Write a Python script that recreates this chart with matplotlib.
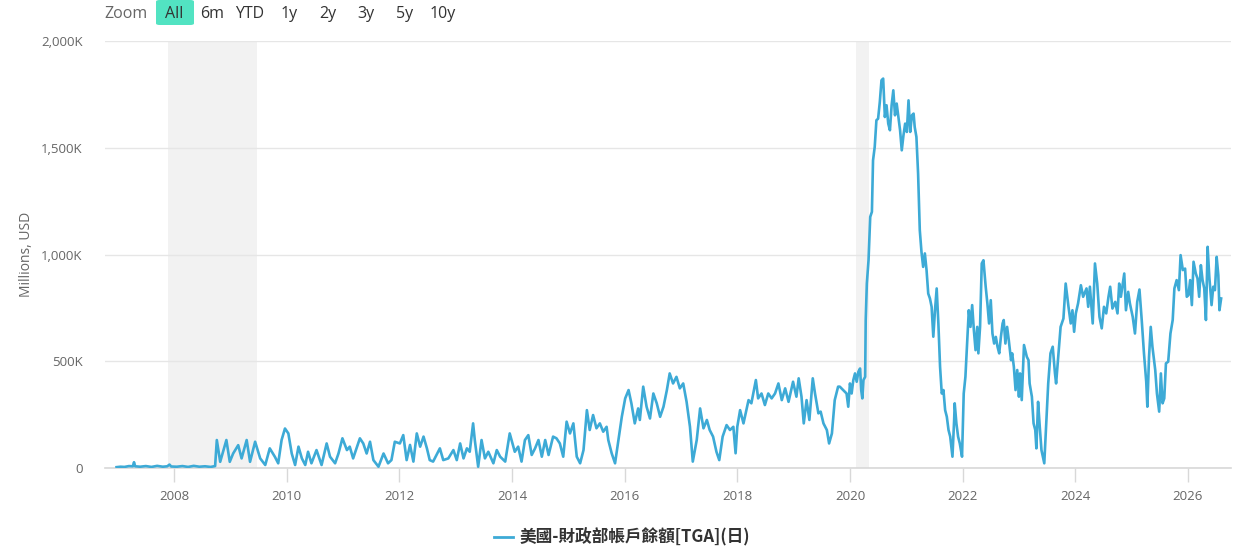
import matplotlib
matplotlib.use("Agg")
import matplotlib.pyplot as plt
from matplotlib.patches import FancyBboxPatch
from matplotlib.ticker import FuncFormatter, MultipleLocator

# TGA balance (decimal year, millions USD in thousands -> "K")
years = [
    2006.98, 2007.05, 2007.12, 2007.20, 2007.27, 2007.29, 2007.31, 2007.40, 2007.50, 2007.60,
    2007.70, 2007.80, 2007.88, 2007.92, 2007.95, 2008.05, 2008.15, 2008.25, 2008.35, 2008.45,
    2008.55, 2008.65, 2008.73,
    2008.76, 2008.82, 2008.88, 2008.93, 2008.99, 2009.05, 2009.14, 2009.20, 2009.29, 2009.35,
    2009.44, 2009.53, 2009.62, 2009.70, 2009.79, 2009.85, 2009.91, 2009.97, 2010.03, 2010.09,
    2010.15, 2010.21, 2010.27, 2010.33, 2010.38, 2010.44, 2010.53, 2010.62, 2010.71, 2010.77,
    2010.86, 2010.92, 2010.99, 2011.07, 2011.12, 2011.18, 2011.30, 2011.36, 2011.42, 2011.48,
    2011.54, 2011.63, 2011.72, 2011.80, 2011.86, 2011.92,
    2012.01, 2012.07, 2012.13, 2012.19, 2012.25, 2012.31, 2012.37, 2012.43, 2012.49, 2012.54,
    2012.60, 2012.72, 2012.78, 2012.87, 2012.96, 2013.02, 2013.08, 2013.14, 2013.20, 2013.25,
    2013.31, 2013.34, 2013.40, 2013.46, 2013.52, 2013.58, 2013.67, 2013.73, 2013.79, 2013.88,
    2013.96, 2014.05, 2014.11, 2014.17, 2014.23, 2014.29, 2014.35, 2014.41, 2014.47, 2014.53,
    2014.59, 2014.65, 2014.73, 2014.79, 2014.85, 2014.91, 2014.97, 2015.03, 2015.09, 2015.15,
    2015.21, 2015.27,
    2015.33, 2015.38, 2015.44, 2015.50, 2015.56, 2015.62, 2015.68, 2015.71, 2015.77, 2015.83,
    2015.89, 2015.95, 2016.01, 2016.07, 2016.12, 2016.18, 2016.24, 2016.27, 2016.33, 2016.39,
    2016.45, 2016.51, 2016.57, 2016.63, 2016.69, 2016.75, 2016.80, 2016.86, 2016.92, 2016.98,
    2017.04, 2017.10, 2017.16, 2017.21, 2017.28, 2017.34, 2017.40, 2017.46, 2017.51, 2017.57,
    2017.63, 2017.68, 2017.74, 2017.81, 2017.87, 2017.93, 2017.97, 2018.00, 2018.05, 2018.11,
    2018.20, 2018.25, 2018.33, 2018.37, 2018.43, 2018.49, 2018.55, 2018.61, 2018.67, 2018.73,
    2018.79, 2018.85, 2018.91, 2018.99, 2019.05, 2019.09, 2019.14, 2019.18, 2019.23, 2019.28,
    2019.34, 2019.38, 2019.44, 2019.48, 2019.53, 2019.59, 2019.63, 2019.68, 2019.73, 2019.79,
    2019.82, 2019.88, 2019.94, 2019.97, 2020.00, 2020.03, 2020.06, 2020.09, 2020.12, 2020.15,
    2020.18, 2020.20, 2020.22, 2020.24, 2020.27, 2020.28, 2020.30, 2020.33, 2020.36, 2020.39,
    2020.41, 2020.44, 2020.47, 2020.50, 2020.53, 2020.56, 2020.59, 2020.62, 2020.65, 2020.68,
    2020.71, 2020.74, 2020.77, 2020.80, 2020.83, 2020.86, 2020.89, 2020.92, 2020.95, 2020.98,
    2021.01, 2021.04, 2021.07, 2021.10, 2021.13, 2021.15, 2021.18, 2021.21, 2021.24, 2021.27,
    2021.30, 2021.33, 2021.36, 2021.39, 2021.42, 2021.45, 2021.48, 2021.51, 2021.54, 2021.57,
    2021.60, 2021.63, 2021.66, 2021.69, 2021.72, 2021.75, 2021.78, 2021.82, 2021.85, 2021.86,
    2021.89, 2021.92, 2021.95, 2021.99, 2022.02, 2022.05, 2022.08, 2022.11, 2022.14, 2022.17,
    2022.20, 2022.23, 2022.26, 2022.28, 2022.31, 2022.34, 2022.37, 2022.41, 2022.44, 2022.47,
    2022.50, 2022.53, 2022.56, 2022.59, 2022.62, 2022.65, 2022.68, 2022.71, 2022.73, 2022.76,
    2022.79, 2022.82, 2022.86, 2022.88, 2022.91, 2022.94, 2022.97, 2023.00,
    2023.02, 2023.05, 2023.09, 2023.14, 2023.17, 2023.19, 2023.23, 2023.26, 2023.29, 2023.31,
    2023.34, 2023.37, 2023.40, 2023.45, 2023.48, 2023.52, 2023.56, 2023.60, 2023.64, 2023.66,
    2023.70, 2023.74, 2023.79, 2023.83, 2023.88, 2023.92, 2023.95, 2023.98, 2024.01, 2024.05,
    2024.10, 2024.14, 2024.20, 2024.23, 2024.26, 2024.31, 2024.35, 2024.39, 2024.43, 2024.47,
    2024.51, 2024.55, 2024.59, 2024.62, 2024.66, 2024.71, 2024.75, 2024.78, 2024.81, 2024.87,
    2024.90, 2024.94, 2024.97, 2025.02, 2025.06, 2025.10, 2025.14, 2025.18, 2025.22, 2025.26,
    2025.28, 2025.31, 2025.34, 2025.37, 2025.42, 2025.45, 2025.49, 2025.52, 2025.55, 2025.58,
    2025.61, 2025.65, 2025.69, 2025.73, 2025.76, 2025.80, 2025.84, 2025.87, 2025.91, 2025.95,
    2025.98, 2026.01, 2026.04, 2026.07, 2026.10, 2026.14, 2026.17, 2026.20, 2026.23, 2026.26,
    2026.29, 2026.32, 2026.35, 2026.38, 2026.42, 2026.45, 2026.48, 2026.51, 2026.54, 2026.56,
    2026.59,
]
balance_k = [
    4, 6, 5, 9, 8, 27, 8, 6, 9, 5,
    10, 6, 8, 16, 7, 6, 9, 5, 10, 6,
    8, 5, 9,
    131, 29, 84, 131, 29, 68, 107, 45, 131, 29,
    123, 45, 14, 92, 53, 22, 131, 185, 162, 68,
    14, 100, 45, 14, 76, 22, 84, 14, 115, 53,
    22, 68, 139, 84, 100, 45, 139, 115, 68, 123,
    37, 6, 68, 22, 37, 123,
    115, 154, 37, 108, 30, 162, 100, 147, 92, 37,
    30, 92, 37, 45, 84, 37, 115, 45, 92, 76,
    209, 131, 6, 131, 45, 76, 22, 84, 53, 30,
    162, 76, 100, 30, 131, 154, 61, 92, 131, 53,
    131, 61, 147, 139, 115, 53, 217, 162, 209, 53,
    22, 84,
    271, 178, 248, 186, 209, 170, 193, 131, 69, 22,
    131, 240, 326, 365, 303, 209, 279, 225, 381, 287,
    232, 349, 303, 240, 287, 365, 443, 396, 427, 373,
    396, 310, 193, 30, 131, 279, 186, 225, 178, 147,
    76, 37, 147, 201, 178, 193, 69, 193, 271, 209,
    318, 303, 412, 326, 349, 295, 349, 326, 349, 396,
    318, 373, 310, 404, 334, 420, 334, 209, 318, 225,
    420, 349, 256, 264, 209, 178, 115, 162, 318, 381,
    381, 365, 349, 287, 396, 349, 412, 443, 404, 451,
    466, 365, 326, 412, 427, 693, 864, 973, 1176, 1200,
    1441, 1504, 1629, 1636, 1714, 1816, 1824, 1644, 1699, 1613,
    1582, 1699, 1769, 1652, 1707, 1644, 1582, 1488, 1558, 1613,
    1574, 1722, 1574, 1652, 1660, 1597, 1551, 1379, 1114, 1012,
    942, 1005, 927, 817, 794, 755, 615, 739, 841, 677,
    474, 349, 365, 271, 240, 178, 147, 53, 225, 303,
    209, 147, 115, 53, 349, 427, 583, 739, 661, 763,
    646, 552, 661, 537, 661, 958, 973, 849, 771, 677,
    786, 630, 583, 614, 568, 537, 614, 677, 693, 583,
    661, 599, 505, 537, 474, 365, 459, 334,
    443, 318, 576, 521, 505, 396, 334, 209, 178, 92,
    310, 193, 84, 22, 178, 396, 537, 568, 443, 396,
    529, 661, 700, 864, 755, 677, 739, 638, 724, 771,
    856, 802, 841, 755, 849, 677, 958, 864, 708, 654,
    755, 724, 802, 849, 747, 778, 724, 864, 802, 911,
    739, 825, 771, 708, 630, 778, 836, 693, 537, 404,
    287, 521, 661, 568, 459, 349, 264, 443, 303, 326,
    490, 498, 630, 693, 841, 880, 833, 997, 927, 934,
    802, 810, 880, 763, 966, 911, 888, 802, 950, 880,
    841, 693, 1036, 895, 763, 849, 833, 989, 903, 739,
    794,
]

# recession bands (start, end)
recessions = [(2007.89, 2009.47), (2020.11, 2020.34)]
zoom_buttons = ["All", "6m", "YTD", "1y", "2y", "3y", "5y", "10y"]
series_name = "美國-財政部帳戶餘額[TGA](日)"

W, H = 1252, 555
fig = plt.figure(figsize=(W / 100, H / 100), dpi=100)
plt.rcParams['font.family'] = ['Open Sans', 'DejaVu Sans']
ax = fig.add_axes([105 / W, 1 - 468 / H, (1231 - 105) / W, (468 - 41) / H])

line_color = "#3daad6"
for start, end in recessions:
    ax.axvspan(start, end, color="#f2f2f2", lw=0, zorder=0)
ax.plot(years, balance_k, color=line_color, lw=1.9, zorder=3)

ax.set_xlim(2006.775, 2026.765)
ax.set_ylim(0, 2000)
ax.yaxis.set_major_locator(MultipleLocator(500))
ax.xaxis.set_major_locator(MultipleLocator(2))
ax.yaxis.set_major_formatter(FuncFormatter(lambda v, p: "0" if v == 0 else f"{int(v):,}K"))
ax.xaxis.set_major_formatter(FuncFormatter(lambda v, p: f"{int(round(v))}"))

ax.grid(axis="y", color="#e6e6e6", lw=1)
ax.set_axisbelow(True)
for s in ["top", "right", "left"]:
    ax.spines[s].set_visible(False)
ax.spines["bottom"].set_color("#d8d8d8")
ax.spines["bottom"].set_linewidth(1.2)
ax.tick_params(axis="y", length=0, pad=16, labelsize=9.5, labelcolor="#666666")
ax.tick_params(axis="x", length=10, width=1, color="#d8d8d8", pad=6, labelsize=9.5, labelcolor="#666666")
ax.set_ylabel("Millions, USD", fontsize=10, color="#666666", labelpad=5)

# range selector on top
fig.text(126 / W, 1 - 14 / H, "Zoom", ha="center", va="center", fontsize=11.5, color="#666666")
btn_x = [174, 212, 250, 289, 328, 366, 405, 443]
fig.patches.append(FancyBboxPatch((156 / W, 1 - 25 / H), 38 / W, 25 / H,
                                  boxstyle="round,pad=0,rounding_size=0.003",
                                  transform=fig.transFigure, fc="#52e3c2", ec="none"))
for bx, lab in zip(btn_x, zoom_buttons):
    fig.text(bx / W, 1 - 14 / H, lab, ha="center", va="center", fontsize=11.5, color="#333333")

# legend
fig.add_artist(plt.Line2D([494 / W, 513 / W], [1 - 537 / H, 1 - 537 / H],
                          color=line_color, lw=2, transform=fig.transFigure))
fig.text(520 / W, 1 - 537 / H, series_name, ha="left", va="center", fontsize=12,
         fontweight="bold", color="#333333", family=['Noto Sans CJK TC', 'DejaVu Sans'])

fig.savefig("out.png", dpi=100)
